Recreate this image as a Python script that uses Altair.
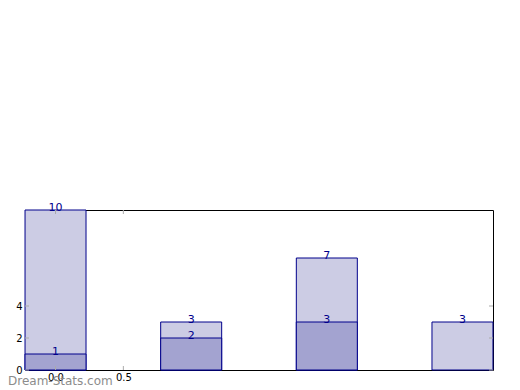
import altair as alt
import pandas as pd

positions = [0, 1, 2, 3]
totals = [10, 3, 7, 3]
subsets = [1, 2, 3, 0]
x_ticks = [0.0, 0.5]
y_ticks = [0, 2, 4]

W, H = 468, 160
navy = "#00008b"

bars = pd.DataFrame({"pos": positions, "total": totals, "sub": subsets})
sub_df = bars[bars["sub"] > 0]
xt = pd.DataFrame({"v": x_ticks})
yt = pd.DataFrame({"v": y_ticks})

xs = alt.Scale(domain=[-0.225, 3.225], nice=False, zero=False, padding=0)
ys = alt.Scale(domain=[0, 10], nice=False, padding=0)

base = alt.Chart(bars)

light = base.mark_bar(size=61, fill="#ccccE4", stroke=navy, strokeWidth=1).encode(
    x=alt.X("pos:Q", scale=xs,
            axis=alt.Axis(values=x_ticks, format=".1f", title=None, domain=False, ticks=False,
                          grid=False, labelFontSize=10, labelColor="black", labelPadding=2,
                          labelFont="DejaVu Sans")),
    y=alt.Y("total:Q", scale=ys,
            axis=alt.Axis(values=y_ticks, title=None, domain=False, ticks=False, grid=False,
                          labelFontSize=10, labelColor="black", labelPadding=3,
                          labelFont="DejaVu Sans")),
)
dark = alt.Chart(sub_df).mark_bar(size=61, fill="#a3a3d0", stroke=navy, strokeWidth=1).encode(
    x=alt.X("pos:Q", scale=xs), y=alt.Y("sub:Q", scale=ys)
)
light_txt = base.mark_text(color=navy, fontSize=11, baseline="bottom", dy=3, font="DejaVu Sans").encode(
    x=alt.X("pos:Q", scale=xs), y=alt.Y("total:Q", scale=ys), text="total:Q"
)
dark_txt = alt.Chart(sub_df).mark_text(color=navy, fontSize=11, baseline="bottom", dy=3, font="DejaVu Sans").encode(
    x=alt.X("pos:Q", scale=xs), y=alt.Y("sub:Q", scale=ys), text="sub:Q"
)

tick_color = "#aaaaaa"
xb = alt.Chart(xt).mark_rule(color=tick_color).encode(
    x=alt.X("v:Q", scale=xs), y=alt.value(H), y2=alt.value(H - 4))
xtop = alt.Chart(xt).mark_rule(color=tick_color).encode(
    x=alt.X("v:Q", scale=xs), y=alt.value(0), y2=alt.value(4))
yl = alt.Chart(yt).mark_rule(color=tick_color).encode(
    y=alt.Y("v:Q", scale=ys), x=alt.value(0), x2=alt.value(4))
yr = alt.Chart(yt).mark_rule(color=tick_color).encode(
    y=alt.Y("v:Q", scale=ys), x=alt.value(W), x2=alt.value(W - 4))

wm = alt.Chart(pd.DataFrame({"t": ["Dream-Stats.com"]})).mark_text(
    color="#8c8c8c", fontSize=12, align="left", baseline="middle",
    font="DejaVu Sans").encode(x=alt.value(-17), y=alt.value(H + 11), text="t:N")

chart = alt.layer(light, dark, light_txt, dark_txt, xb, xtop, yl, yr, wm).properties(
    width=W, height=H,
    autosize=alt.AutoSizeParams(type="none"),
    padding={"left": 17, "top": 202, "right": 19, "bottom": 20},
).configure_view(stroke="black", strokeWidth=1)

chart.save("out.html", embed_options={"renderer": "svg", "actions": False})
